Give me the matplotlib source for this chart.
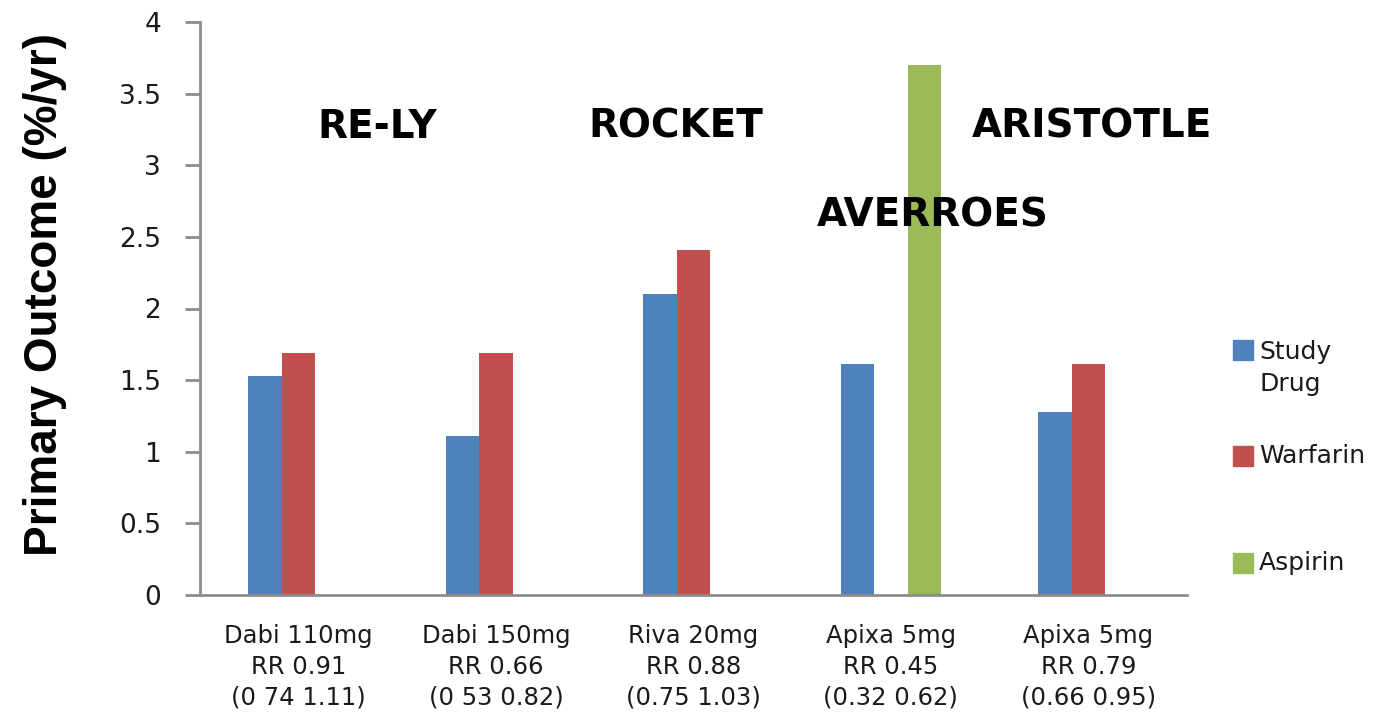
import matplotlib
matplotlib.use("Agg")
import matplotlib.pyplot as plt
from matplotlib.patches import Rectangle
import numpy as np

# ---- data ----
categories = [
    "Dabi 110mg\nRR 0.91\n(0 74 1.11)",
    "Dabi 150mg\nRR 0.66\n(0 53 0.82)",
    "Riva 20mg\nRR 0.88\n(0.75 1.03)",
    "Apixa 5mg\nRR 0.45\n(0.32 0.62)",
    "Apixa 5mg\nRR 0.79\n(0.66 0.95)",
]
study_drug = [1.53, 1.11, 2.10, 1.61, 1.28]
warfarin = [1.69, 1.69, 2.41, 0.0, 1.61]
aspirin = [0.0, 0.0, 0.0, 3.70, 0.0]
series_names = ["Study\nDrug", "Warfarin", "Aspirin"]
y_ticks = [0, 0.5, 1, 1.5, 2, 2.5, 3, 3.5, 4]
trial_labels = ["RE-LY", "ROCKET", "AVERROES", "ARISTOTLE"]

colors = ["#4F81BD", "#C0504D", "#9BBB59"]
W, H = 1378, 723
small_font = "DejaVu Sans"

fig = plt.figure(figsize=(W / 100, H / 100), dpi=100)
ax = fig.add_axes([200 / W, 1 - 595 / H, 987 / W, 573 / H])

x = np.arange(len(categories))
bw = 0.17
for i, vals in enumerate([study_drug, warfarin, aspirin]):
    ax.bar(x + (i - 1) * bw, vals, width=bw, color=colors[i], zorder=2)

ax.set_xlim(-0.5, len(categories) - 0.5)
ax.set_ylim(0, 4)
ax.set_yticks(y_ticks)
ax.set_yticklabels([f"{t:g}" for t in y_ticks])
ax.set_xticks(x)
ax.set_xticklabels(categories, linespacing=1.35)

for lab in ax.get_yticklabels():
    lab.set_fontfamily(small_font)
    lab.set_fontsize(19)
    lab.set_color("#1a1a1a")
for lab in ax.get_xticklabels():
    lab.set_fontfamily(small_font)
    lab.set_fontsize(17.5)
    lab.set_color("#1a1a1a")

for s in ["top", "right"]:
    ax.spines[s].set_visible(False)
for s in ["left", "bottom"]:
    ax.spines[s].set_color("#8c8c8c")
    ax.spines[s].set_linewidth(2)
ax.tick_params(axis="y", length=11, width=2, color="#8c8c8c", pad=17)
ax.tick_params(axis="x", length=0, pad=21)

ax.set_ylabel("Primary Outcome (%/yr)", fontsize=33, fontweight="bold",
              family=["Liberation Sans"])
ax.yaxis.set_label_coords(-0.135, 0.5236)

# trial annotations
trial_pos = [(0.40, 3.27), (1.91, 3.27), (3.21, 2.65), (4.02, 3.27)]
for lab, (tx, ty) in zip(trial_labels, trial_pos):
    ax.text(tx, ty, lab, ha="center", va="center", fontsize=28,
            fontweight="bold", family="DejaVu Sans", color="black", zorder=3)

# legend (manual, Excel-like spacing)
sq_y = [350, 456, 563]
txt_y = [368, 456, 563]
for name, col, cy, ty in zip(series_names, colors, sq_y, txt_y):
    fig.add_artist(Rectangle((1233 / W, 1 - (cy + 10) / H), 20 / W, 20 / H,
                             transform=fig.transFigure, color=col))
    fig.text(1259 / W, 1 - ty / H, name, ha="left", va="center",
             fontsize=18, family=small_font, color="#1a1a1a", linespacing=1.45)

fig.savefig("out.png", dpi=100)
